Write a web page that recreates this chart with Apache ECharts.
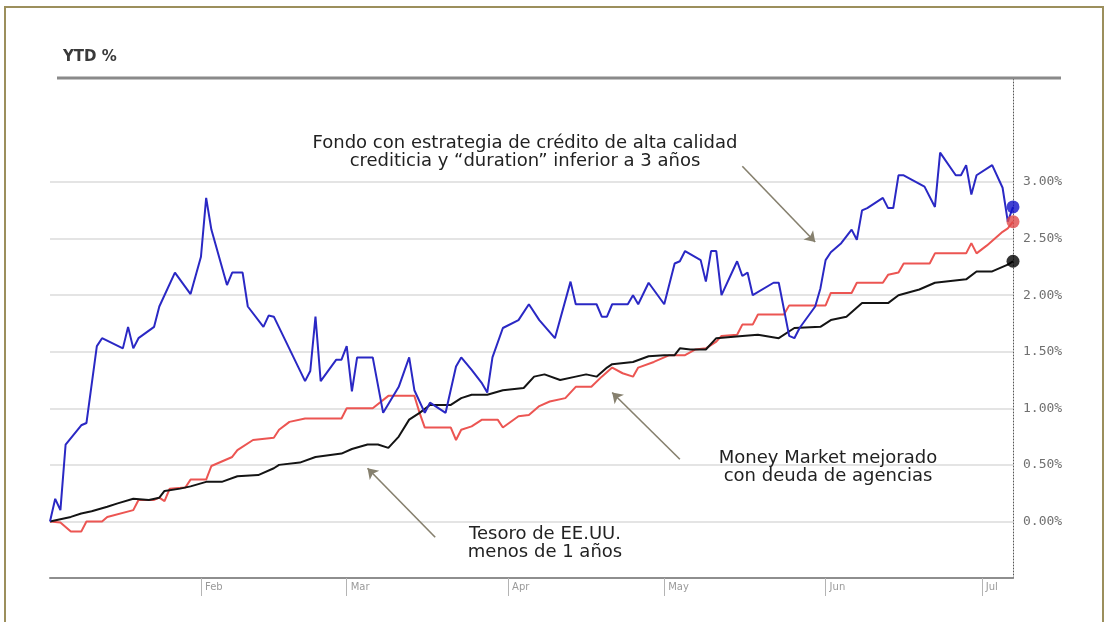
<!DOCTYPE html>
<html>
<head>
<meta charset="utf-8">
<title>YTD %</title>
<script src="https://cdn.jsdelivr.net/npm/echarts@6/dist/echarts.min.js"></script>
<style>
  html, body { margin: 0; padding: 0; background: #ffffff; }
  #chart { width: 1109px; height: 622px; }
</style>
</head>
<body>
<div id="chart"></div>
<script>
// ---- Data: year-to-date return, % ----
const fondoDates = ['2013-01-03','2013-01-04','2013-01-05','2013-01-06','2013-01-09','2013-01-10','2013-01-12','2013-01-13','2013-01-17','2013-01-18','2013-01-19','2013-01-20','2013-01-23','2013-01-24','2013-01-27','2013-01-30','2013-02-01','2013-02-02','2013-02-03','2013-02-06','2013-02-07','2013-02-09','2013-02-10','2013-02-13','2013-02-14','2013-02-15','2013-02-21','2013-02-22','2013-02-23','2013-02-24','2013-02-27','2013-02-28','2013-03-01','2013-03-02','2013-03-03','2013-03-06','2013-03-08','2013-03-11','2013-03-13','2013-03-14','2013-03-16','2013-03-17','2013-03-20','2013-03-22','2013-03-23','2013-03-25','2013-03-27','2013-03-28','2013-03-29','2013-03-31','2013-04-03','2013-04-05','2013-04-07','2013-04-10','2013-04-13','2013-04-14','2013-04-18','2013-04-19','2013-04-20','2013-04-21','2013-04-24','2013-04-25','2013-04-26','2013-04-28','2013-05-01','2013-05-03','2013-05-04','2013-05-05','2013-05-08','2013-05-09','2013-05-10','2013-05-11','2013-05-12','2013-05-15','2013-05-16','2013-05-17','2013-05-18','2013-05-22','2013-05-23','2013-05-25','2013-05-26','2013-05-27','2013-05-30','2013-05-31','2013-06-01','2013-06-02','2013-06-04','2013-06-06','2013-06-07','2013-06-08','2013-06-09','2013-06-12','2013-06-13','2013-06-14','2013-06-15','2013-06-16','2013-06-20','2013-06-22','2013-06-23','2013-06-26','2013-06-27','2013-06-28','2013-06-29','2013-06-30','2013-07-03','2013-07-05','2013-07-06','2013-07-07'];
const fondoValues = [0.00,0.20,0.10,0.68,0.85,0.87,1.55,1.62,1.53,1.72,1.53,1.62,1.72,1.90,2.20,2.01,2.34,2.86,2.58,2.09,2.20,2.20,1.90,1.72,1.82,1.81,1.24,1.33,1.81,1.24,1.43,1.43,1.55,1.15,1.45,1.45,0.96,1.19,1.45,1.16,0.96,1.05,0.96,1.37,1.45,1.34,1.22,1.14,1.45,1.71,1.78,1.92,1.78,1.62,2.12,1.92,1.92,1.81,1.81,1.92,1.92,2.00,1.92,2.11,1.92,2.28,2.30,2.39,2.31,2.12,2.39,2.39,2.00,2.30,2.17,2.20,2.00,2.11,2.11,1.64,1.62,1.71,1.90,2.06,2.31,2.38,2.46,2.58,2.49,2.75,2.77,2.86,2.77,2.77,3.06,3.06,2.96,2.78,3.26,3.06,3.06,3.15,2.89,3.06,3.15,2.95,2.65,2.78];

const moneyDates = ['2013-01-03','2013-01-05','2013-01-07','2013-01-09','2013-01-10','2013-01-13','2013-01-14','2013-01-19','2013-01-20','2013-01-23','2013-01-24','2013-01-25','2013-01-26','2013-01-29','2013-01-30','2013-02-02','2013-02-03','2013-02-06','2013-02-07','2013-02-08','2013-02-11','2013-02-15','2013-02-16','2013-02-18','2013-02-21','2013-02-28','2013-03-01','2013-03-06','2013-03-09','2013-03-14','2013-03-15','2013-03-16','2013-03-21','2013-03-22','2013-03-23','2013-03-25','2013-03-27','2013-03-30','2013-03-31','2013-04-03','2013-04-05','2013-04-07','2013-04-09','2013-04-12','2013-04-14','2013-04-17','2013-04-19','2013-04-21','2013-04-23','2013-04-25','2013-04-26','2013-04-29','2013-05-02','2013-05-05','2013-05-07','2013-05-09','2013-05-11','2013-05-12','2013-05-15','2013-05-16','2013-05-18','2013-05-19','2013-05-24','2013-05-25','2013-06-01','2013-06-02','2013-06-06','2013-06-07','2013-06-12','2013-06-13','2013-06-15','2013-06-16','2013-06-21','2013-06-22','2013-06-28','2013-06-29','2013-06-30','2013-07-02','2013-07-05','2013-07-06','2013-07-07'];
const moneyValues = [0.00,-0.01,-0.09,-0.09,0.00,0.00,0.04,0.10,0.19,0.19,0.21,0.18,0.29,0.30,0.37,0.37,0.49,0.55,0.57,0.63,0.72,0.74,0.81,0.88,0.91,0.91,1.00,1.00,1.11,1.11,0.96,0.83,0.83,0.72,0.81,0.84,0.90,0.90,0.83,0.93,0.94,1.02,1.06,1.09,1.19,1.19,1.28,1.36,1.31,1.28,1.36,1.41,1.47,1.47,1.52,1.53,1.59,1.64,1.65,1.74,1.74,1.83,1.83,1.91,1.91,2.02,2.02,2.11,2.11,2.18,2.20,2.28,2.28,2.37,2.37,2.46,2.37,2.44,2.56,2.59,2.65];

const tesoroDates = ['2013-01-03','2013-01-07','2013-01-09','2013-01-11','2013-01-14','2013-01-16','2013-01-19','2013-01-22','2013-01-24','2013-01-25','2013-01-28','2013-01-30','2013-02-02','2013-02-05','2013-02-08','2013-02-12','2013-02-15','2013-02-16','2013-02-20','2013-02-23','2013-02-28','2013-03-02','2013-03-05','2013-03-07','2013-03-09','2013-03-11','2013-03-13','2013-03-15','2013-03-17','2013-03-21','2013-03-23','2013-03-25','2013-03-28','2013-03-31','2013-04-04','2013-04-06','2013-04-08','2013-04-11','2013-04-14','2013-04-16','2013-04-18','2013-04-20','2013-04-21','2013-04-25','2013-04-28','2013-05-01','2013-05-03','2013-05-04','2013-05-06','2013-05-09','2013-05-11','2013-05-16','2013-05-19','2013-05-23','2013-05-26','2013-05-31','2013-06-02','2013-06-05','2013-06-08','2013-06-13','2013-06-15','2013-06-19','2013-06-22','2013-06-28','2013-06-30','2013-07-03','2013-07-06','2013-07-07'];
const tesoroValues = [0.00,0.04,0.07,0.09,0.13,0.16,0.20,0.19,0.21,0.27,0.29,0.31,0.35,0.35,0.40,0.41,0.47,0.50,0.52,0.57,0.60,0.64,0.68,0.68,0.65,0.75,0.90,0.96,1.03,1.03,1.09,1.12,1.12,1.16,1.18,1.28,1.30,1.25,1.28,1.30,1.28,1.36,1.39,1.41,1.46,1.47,1.47,1.53,1.52,1.52,1.62,1.64,1.65,1.62,1.71,1.72,1.78,1.81,1.93,1.93,2.00,2.05,2.11,2.14,2.21,2.21,2.27,2.30];

// Month ticks on the date axis
const monthTickDates = ['2013-02-01','2013-03-01','2013-04-01','2013-05-01','2013-06-01','2013-07-01'];
const monthTickLabels = ['Feb','Mar','Apr','May','Jun','Jul'];

// Annotation texts and the points their arrows join (date, %)
const fondoNote = ['Fondo con estrategia de crédito de alta calidad', 'crediticia y “duration” inferior a 3 años'];
const moneyNote = ['Money Market mejorado', 'con deuda de agencias'];
const tesoroNote = ['Tesoro de EE.UU.', 'menos de 1 años'];
const noteArrows = [
  { from: ['2013-05-16', 3.14], to: ['2013-05-30', 2.47] },
  { from: ['2013-05-04', 0.55], to: ['2013-04-21', 1.14] },
  { from: ['2013-03-18', -0.14], to: ['2013-03-05', 0.47] }
];

// ---- Helpers: dates become day numbers counted from the first day ----
const START_DATE = '2013-01-03';
const END_DATE = '2013-07-07';
function toTime(s) {
  const p = s.split('-').map(Number);
  return Date.UTC(p[0], p[1] - 1, p[2]);
}
function dayNo(s) {
  return Math.round((toTime(s) - toTime(START_DATE)) / 86400000);
}
function pairs(dates, values) {
  return dates.map((d, i) => [dayNo(d), values[i]]);
}
const monthTicks = monthTickDates.map(dayNo);
function monthLabel(v) {
  const i = monthTicks.indexOf(Math.round(v));
  return i >= 0 ? monthTickLabels[i] : '';
}

const COLORS = { fondo: '#2a28c4', money: '#ec5552', tesoro: '#141414' };
const GRID_LINE = '#e4e4e4';
const NONE = 'rgba(0,0,0,0)';

const chart = echarts.init(document.getElementById('chart'), null, { renderer: 'canvas' });

const lastPoint = (dates, values, color) => ({
  value: [dayNo(dates[dates.length - 1]), values[values.length - 1]],
  itemStyle: { color: color }
});

const noteText = (lines, x, y) => ({
  type: 'text',
  style: {
    text: lines.join('\n'),
    x: x, y: y,
    textAlign: 'center',
    textVerticalAlign: 'middle',
    font: '18px "DejaVu Sans"',
    lineHeight: 18,
    fill: '#222222'
  },
  z: 10
});

chart.setOption({
  animation: false,
  backgroundColor: '#ffffff',
  grid: { left: 50, right: 96, top: 78, bottom: 44, containLabel: false, outerBoundsMode: 'none' },
  xAxis: {
    type: 'value',
    min: 0,
    max: dayNo(END_DATE),
    axisLine: { show: true, onZero: false, lineStyle: { color: '#8e8e8e', width: 2 } },
    axisTick: { show: true, customValues: monthTicks, length: 18, lineStyle: { color: '#b4b4b4', width: 1 } },
    axisLabel: {
      customValues: monthTicks,
      formatter: monthLabel,
      align: 'left',
      padding: [0, 0, 0, 4],
      margin: 4,
      color: '#9a9a9a',
      fontSize: 10,
      fontFamily: 'DejaVu Sans'
    },
    splitLine: { show: false }
  },
  yAxis: {
    type: 'value',
    position: 'right',
    min: -0.5,
    max: 3.92,
    interval: 0.5,
    axisLine: { show: true, onZero: false, lineStyle: { color: '#555555', width: 1, type: [1, 2] } },
    axisTick: { show: false },
    axisLabel: {
      showMinLabel: false,
      showMaxLabel: false,
      formatter: v => (v >= 0 && v <= 3.0001) ? v.toFixed(2) + '%' : '',
      margin: 10,
      color: '#707070',
      fontSize: 13,
      fontFamily: 'DejaVu Sans Mono'
    },
    splitLine: {
      show: true,
      lineStyle: { color: [NONE, GRID_LINE, GRID_LINE, GRID_LINE, GRID_LINE, GRID_LINE, GRID_LINE, GRID_LINE, NONE, NONE, NONE], width: 2 }
    }
  },
  series: [
    {
      name: 'Money Market mejorado',
      type: 'line',
      data: pairs(moneyDates, moneyValues),
      symbol: 'none',
      showSymbol: false,
      lineStyle: { color: COLORS.money, width: 2 },
      z: 2,
      markLine: {
        silent: true,
        symbol: ['none', 'arrow'],
        symbolSize: 10,
        label: { show: false },
        lineStyle: { color: '#86806e', width: 1.6, type: 'solid' },
        itemStyle: { color: '#86806e' },
        data: noteArrows.map(a => [
          { coord: [dayNo(a.from[0]), a.from[1]] },
          { coord: [dayNo(a.to[0]), a.to[1]] }
        ])
      }
    },
    {
      name: 'Tesoro de EE.UU. menos de 1 años',
      type: 'line',
      data: pairs(tesoroDates, tesoroValues),
      symbol: 'none',
      showSymbol: false,
      lineStyle: { color: COLORS.tesoro, width: 2 },
      z: 3
    },
    {
      name: 'Fondo',
      type: 'line',
      data: pairs(fondoDates, fondoValues),
      symbol: 'none',
      showSymbol: false,
      lineStyle: { color: COLORS.fondo, width: 2 },
      z: 4
    },
    {
      name: 'Último valor',
      type: 'scatter',
      symbol: 'circle',
      symbolSize: 13,
      z: 6,
      data: [
        lastPoint(tesoroDates, tesoroValues, '#000000'),
        lastPoint(moneyDates, moneyValues, '#e04a4a'),
        lastPoint(fondoDates, fondoValues, '#1010c8')
      ]
    }
  ],
  graphic: [
    {
      type: 'rect',
      shape: { x: 5, y: 7, width: 1098, height: 700 },
      style: { fill: NONE, stroke: '#9c8f5c', lineWidth: 2 },
      silent: true
    },
    {
      type: 'text',
      style: { text: 'YTD %', x: 63, y: 57, textVerticalAlign: 'middle', font: 'bold 15px "DejaVu Sans"', fill: '#3a3a3a' }
    },
    {
      type: 'line',
      shape: { x1: 57, y1: 78, x2: 1061, y2: 78 },
      style: { stroke: '#8a8a8a', lineWidth: 3 },
      z: 5
    },
    noteText(fondoNote, 525, 152),
    noteText(moneyNote, 828, 467),
    noteText(tesoroNote, 545, 543)
  ]
});
</script>
</body>
</html>
